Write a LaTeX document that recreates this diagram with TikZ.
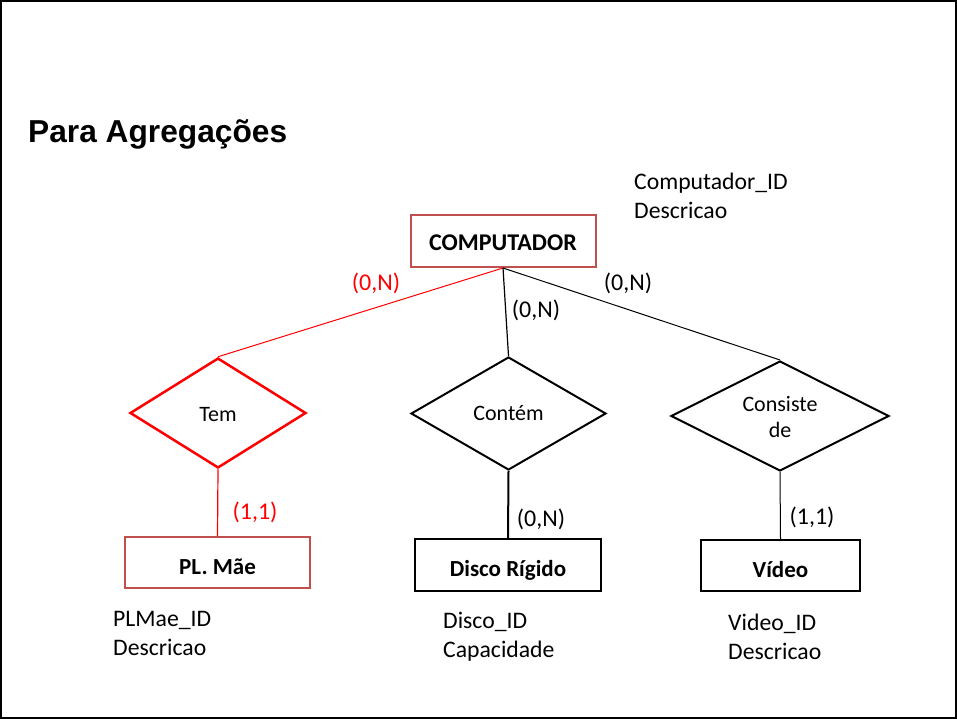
\documentclass[tikz,border=0pt]{standalone}
\usepackage{fontspec}
\setmainfont{Carlito}
\newfontfamily\titlefont{Liberation Sans}
\usetikzlibrary{shapes.geometric}
\definecolor{boxred}{HTML}{C0504D}
\definecolor{pured}{HTML}{FF0000}
\tikzset{
  ent/.style={draw, line width=2pt, inner sep=0pt, text height=28pt, text depth=5pt, font=\fontsize{23}{27}\selectfont\bfseries},
  rel/.style={draw, diamond, line width=2pt, inner sep=0pt},
  reltext/.style={font=\fontsize{22}{26}\selectfont, align=center},
  attr/.style={font=\fontsize{23.7}{29}\selectfont, align=left, anchor=west, inner sep=0pt},
  card/.style={font=\fontsize{24}{28}\selectfont, inner sep=0pt},
}
\begin{document}
\begin{tikzpicture}[x=1pt,y=-1pt]
\useasboundingbox (0,0) rectangle (957,719);
\draw[line width=2pt] (1,1) rectangle (956,718);
\node[anchor=west, inner sep=0pt, font=\titlefont\fontsize{31.7}{36}\selectfont\bfseries] (title) at (28,134) {Para Agregações};
% entities
\node[ent, draw=boxred, minimum width=185pt, minimum height=52pt, text height=25pt, font=\fontsize{24}{28}\selectfont\bfseries] (comp) at (503,241) {COMPUTADOR};
\node[ent, draw=boxred, minimum width=185pt, minimum height=51pt] (plm) at (217.5,562.5) {PL. Mãe};
\node[ent, minimum width=186pt, minimum height=52pt] (disco) at (508,565) {Disco Rígido};
\node[ent, minimum width=159pt, minimum height=51pt] (video) at (780.5,565.5) {Vídeo};
% relationships
\node[rel, draw=pured, line width=2.5pt, minimum width=176pt, minimum height=110pt] (tem) at (218,413) {};
\node[reltext] (temt) at ([yshift=-2pt]tem.center) {Tem};
\node[rel, minimum width=195pt, minimum height=113pt] (contem) at (508.5,413.5) {};
\node[reltext] (contemt) at (contem.center) {Contém};
\node[rel, minimum width=218pt, minimum height=110pt] (cons) at (780,416) {};
\node[reltext] (const) at ([yshift=-1.5pt]cons.center) {Consiste\\de};
% connectors
\draw[pured, line width=1pt] (comp.south) -- (tem.north);
\draw[line width=1.2pt] (comp.south) -- (contem.north);
\draw[line width=1pt] (comp.south) -- (cons.north);
\draw[pured, line width=1.2pt] (tem.south) -- (plm.north);
\draw[line width=2pt] (contem.south) -- (disco.north);
\draw[line width=1pt] (cons.south) -- (video.north);
% cardinalities
\node[card, text=pured] (c1) at (376,283) {(0,N)};
\node[card] (c2) at (536,310) {(0,N)};
\node[card] (c3) at (628,283) {(0,N)};
\node[card, text=pured] (c4) at (255,512) {(1,1)};
\node[card] (c5) at (541,519) {(0,N)};
\node[card] (c6) at (812,517) {(1,1)};
% attributes
\node[attr] (a1) at (634,196) {Computador\_ID\\Descricao};
\node[attr] (a2) at (113,633) {PLMae\_ID\\Descricao};
\node[attr] (a3) at (443,637) {Disco\_ID\\Capacidade};
\node[attr] (a4) at (728,637) {Video\_ID\\Descricao};
\end{tikzpicture}
\end{document}
